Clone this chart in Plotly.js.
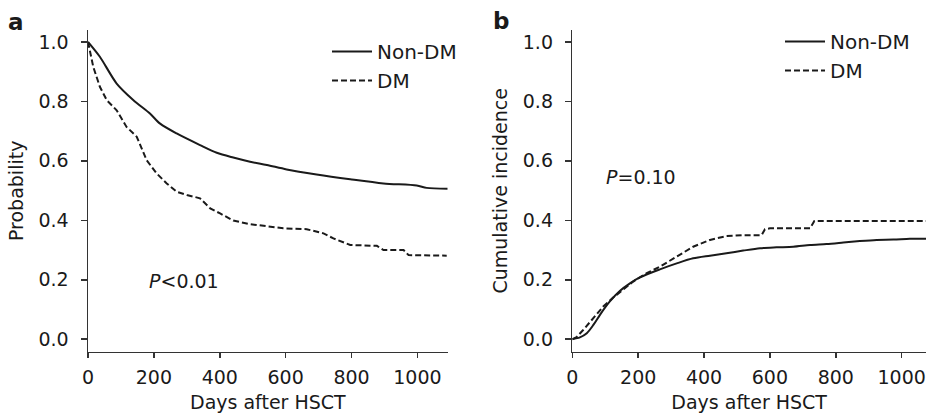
<!DOCTYPE html>
<html>
<head>
<meta charset="utf-8">
<script src="https://cdn.plot.ly/plotly-3.0.1.min.js"></script>
<style>html,body{margin:0;padding:0;background:#fff;}#chart{width:926px;height:418px;}</style>
</head>
<body>
<div id="chart"></div>
<script>
// Panel a: overall survival probability
const daysA_non = [0, 36, 87, 138, 188, 219, 269, 340, 391, 441, 492, 543, 603, 694, 796, 897, 998, 1028, 1092];
const probA_non = [1.0, 0.950, 0.860, 0.804, 0.759, 0.725, 0.692, 0.653, 0.627, 0.611, 0.597, 0.586, 0.571, 0.554, 0.538, 0.524, 0.517, 0.509, 0.506];
const daysA_dm = [0, 16, 36, 57, 87, 117, 148, 178, 208, 239, 269, 300, 340, 371, 401, 441, 492, 543, 593, 664, 715, 745, 796, 877, 897, 958, 973, 1089];
const probA_dm = [1.0, 0.916, 0.849, 0.804, 0.770, 0.714, 0.681, 0.602, 0.558, 0.524, 0.496, 0.485, 0.474, 0.440, 0.423, 0.399, 0.387, 0.379, 0.373, 0.370, 0.356, 0.339, 0.317, 0.314, 0.300, 0.300, 0.283, 0.281];

// Panel b: cumulative incidence
const daysB_non = [0, 23, 44, 64, 84, 114, 145, 175, 205, 266, 317, 367, 418, 468, 519, 570, 620, 671, 722, 772, 823, 873, 924, 975, 1025, 1074];
const incB_non = [0, 0.006, 0.020, 0.048, 0.082, 0.127, 0.163, 0.188, 0.208, 0.235, 0.255, 0.272, 0.281, 0.289, 0.298, 0.306, 0.309, 0.311, 0.317, 0.320, 0.325, 0.330, 0.334, 0.335, 0.338, 0.338];
const daysB_dm = [0, 13, 33, 64, 94, 124, 155, 185, 226, 266, 317, 367, 418, 468, 519, 575, 585, 600, 722, 735, 1074];
const incB_dm = [0, 0.007, 0.031, 0.071, 0.110, 0.140, 0.166, 0.194, 0.222, 0.244, 0.278, 0.311, 0.334, 0.347, 0.350, 0.350, 0.370, 0.373, 0.373, 0.398, 0.398];

const seriesNames = ['Non-DM', 'DM'];
const tickVals = [0, 0.2, 0.4, 0.6, 0.8, 1.0];
const tickText = ['0.0', '0.2', '0.4', '0.6', '0.8', '1.0'];
const xTicks = [0, 200, 400, 600, 800, 1000];

const FONT = 'DejaVu Sans, Liberation Sans, Arial, sans-serif';
const INK = '#1a1a1a';
const lineSmooth = {color: INK, width: 2, shape: 'spline', smoothing: 0.8};
const lineSolid = {color: INK, width: 2};
const lineDash = {color: INK, width: 2, dash: '6px,3px'};

const traces = [
  {x: daysA_non, y: probA_non, name: seriesNames[0], mode: 'lines', line: lineSmooth, xaxis: 'x', yaxis: 'y', legend: 'legend'},
  {x: daysA_dm, y: probA_dm, name: seriesNames[1], mode: 'lines', line: lineDash, xaxis: 'x', yaxis: 'y', legend: 'legend'},
  {x: daysB_non, y: incB_non, name: seriesNames[0], mode: 'lines', line: lineSmooth, xaxis: 'x2', yaxis: 'y2', legend: 'legend2'},
  {x: daysB_dm, y: incB_dm, name: seriesNames[1], mode: 'lines', line: lineDash, xaxis: 'x2', yaxis: 'y2', legend: 'legend2'}
];

function xax(domain, range, anchor) {
  return {
    domain: domain, range: range, anchor: anchor,
    showline: true, linecolor: '#333', linewidth: 1.5, mirror: false,
    ticks: 'outside', ticklen: 5, tickwidth: 1.5, tickcolor: '#333',
    tickvals: xTicks, showgrid: false, zeroline: false,
    tickfont: {family: FONT, size: 19, color: INK},
    ticklabelstandoff: 3,
    title: {text: 'Days after HSCT', font: {family: FONT, size: 19, color: INK}, standoff: 8}
  };
}
function yax(domain, anchor, title) {
  return {
    domain: domain, range: [-0.042, 1.04], anchor: anchor,
    showline: true, linecolor: '#333', linewidth: 1.5,
    ticks: 'outside', ticklen: 6, tickwidth: 1.5, tickcolor: '#333',
    tickvals: tickVals, ticktext: tickText, showgrid: false, zeroline: false,
    tickfont: {family: FONT, size: 19, color: INK},
    ticklabelstandoff: 8,
    title: {text: title, font: {family: FONT, size: 19, color: INK}, standoff: 10}
  };
}

const yDom = [1 - 351.7 / 418, 1 - 30 / 418];
const layout = {
  width: 926, height: 418,
  margin: {l: 0, r: 0, t: 0, b: 0},
  paper_bgcolor: '#fff', plot_bgcolor: '#fff',
  font: {family: FONT, size: 19, color: INK},
  xaxis: xax([88 / 926, 447.7 / 926], [0, 1092], 'y'),
  yaxis: yax(yDom, 'x', 'Probability'),
  xaxis2: xax([572.3 / 926, 1.0], [0, 1074], 'y2'),
  yaxis2: yax(yDom, 'x2', 'Cumulative incidence'),
  legend: {x: 327 / 926, y: 1 - 32 / 418, xanchor: 'left', yanchor: 'top', bgcolor: 'rgba(0,0,0,0)',
           font: {family: FONT, size: 20, color: INK}, itemwidth: 40, tracegroupgap: 0},
  legend2: {x: 780 / 926, y: 1 - 22 / 418, xanchor: 'left', yanchor: 'top', bgcolor: 'rgba(0,0,0,0)',
            font: {family: FONT, size: 20, color: INK}, itemwidth: 40, tracegroupgap: 0},
  showlegend: true,
  annotations: [
    {text: '<b>a</b>', xref: 'paper', yref: 'paper', x: 16 / 926, y: 1 - 22 / 418, xanchor: 'center', yanchor: 'middle', showarrow: false, font: {family: FONT, size: 23, color: INK}},
    {text: '<b>b</b>', xref: 'paper', yref: 'paper', x: 501 / 926, y: 1 - 21 / 418, xanchor: 'center', yanchor: 'middle', showarrow: false, font: {family: FONT, size: 23, color: INK}},
    {text: '<i>P</i>&lt;0.01', xref: 'x', yref: 'y', x: 180, y: 0.196, xanchor: 'left', yanchor: 'middle', showarrow: false, font: {family: FONT, size: 19, color: INK}},
    {text: '<i>P</i>=0.10', xref: 'x2', yref: 'y2', x: 97, y: 0.545, xanchor: 'left', yanchor: 'middle', showarrow: false, font: {family: FONT, size: 19, color: INK}}
  ]
};

Plotly.newPlot('chart', traces, layout, {displayModeBar: false, staticPlot: true});
</script>
</body>
</html>
